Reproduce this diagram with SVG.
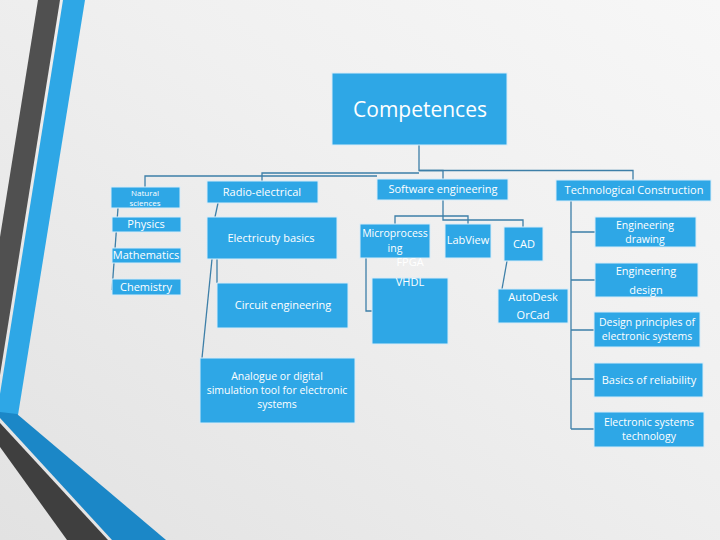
<svg xmlns="http://www.w3.org/2000/svg" width="720" height="540" viewBox="0 0 720 540">
<defs>
<linearGradient id="bg" x1="0" y1="1" x2="1" y2="0">
<stop offset="0" stop-color="#e2e2e2"/>
<stop offset="0.6" stop-color="#f0f0f0"/>
<stop offset="1" stop-color="#f7f7f7"/>
</linearGradient>
<style>
.box{fill:#2ea7e6;stroke:#d8ecf8;stroke-width:1}
.t{font-family:"Open Sans","Noto Sans",sans-serif;fill:#ffffff;text-anchor:middle;font-size:11px}
.m{font-size:10.5px}
.s{font-size:8px}
.c{fill:none;stroke:#3d7fa8;stroke-width:1.3}
</style>
</defs>
<rect width="720" height="540" fill="url(#bg)"/>
<g id="decoration">
<polygon points="38,0 60,0 0,375 0,237" fill="#505050"/>
<polygon points="63,0 85,0 18,415 0,415 0,394" fill="#2ea7e6"/>
<polygon points="0,412 17,414 166,540 112,540 0,418" fill="#1b87c7"/>
<polygon points="0,423 108,540 67,540 0,447" fill="#3f3f3f"/>
</g>
<g id="connectors">
<path class="c" d="M419,145 V170.5 H633 V180"/>
<path class="c" d="M419,170.5 H443 V179" stroke-width="2.2"/>
<path class="c" d="M419,173 H262 V181"/>
<path class="c" d="M377,176 H145 V187"/>
<path class="c" d="M118,208 L112,290"/>
<path class="c" d="M218,203 L215,217"/>
<path class="c" d="M217,259 V283"/>
<path class="c" d="M212,259 L202,358"/>
<path class="c" d="M443,200 V220 H523 V227"/>
<path class="c" d="M395,224 V216 H468 V224"/>
<path class="c" d="M366,258 V311 H372"/>
<path class="c" d="M507,261 L502,289"/>
<path class="c" d="M571,201 V429 M571,232 H595 M571,280 H595 M571,330 H594 M571,379 H594 M571,429 H594"/>
</g>
<g id="competences"><rect class="box" x="332" y="73" width="175" height="72"/><text class="t" x="420" y="117" style="font-size:21px">Competences</text></g>
<g id="natural"><rect class="box" x="111" y="187" width="69" height="21"/><text class="t s" x="145" y="195.5">Natural</text><text class="t s" x="145" y="205.5">sciences</text></g>
<g id="physics"><rect class="box" x="112" y="217" width="69" height="15"/><text class="t" x="146" y="228">Physics</text></g>
<g id="mathematics"><rect class="box" x="112" y="248" width="69" height="15"/><text class="t" x="146" y="259">Mathematics</text></g>
<g id="chemistry"><rect class="box" x="112" y="279" width="69" height="16"/><text class="t" x="146" y="291">Chemistry</text></g>
<g id="radio"><rect class="box" x="207" y="181" width="111" height="22"/><text class="t" x="262" y="196">Radio-electrical</text></g>
<g id="electricity"><rect class="box" x="207" y="217" width="130" height="42"/><text class="t" x="271" y="242">Electricuty basics</text></g>
<g id="circuit"><rect class="box" x="217" y="283" width="131" height="45"/><text class="t" x="283" y="309">Circuit engineering</text></g>
<g id="analogue"><rect class="box" x="200" y="358" width="155" height="65"/><text class="t m" x="277" y="380">Analogue or digital</text><text class="t m" x="277" y="394">simulation tool for electronic</text><text class="t m" x="277" y="408">systems</text></g>
<g id="software"><rect class="box" x="377" y="179" width="131" height="21"/><text class="t" x="443" y="193">Software engineering</text></g>
<g id="technological"><rect class="box" x="556" y="180" width="155" height="21"/><text class="t" x="634" y="194">Technological Construction</text></g>
<g id="microprocessing"><rect class="box" x="360" y="224" width="70" height="34"/><text class="t m" x="395" y="237">Microprocess</text><text class="t m" x="395" y="252">ing</text></g>
<g id="labview"><rect class="box" x="445" y="224" width="46" height="34"/><text class="t" x="468" y="244">LabView</text></g>
<g id="cad"><rect class="box" x="504" y="227" width="39" height="34"/><text class="t" x="524" y="248">CAD</text></g>
<g id="vhdl"><rect class="box" x="372" y="278" width="76" height="66"/><text class="t" x="410" y="266">FPGA</text><text class="t" x="410" y="286">VHDL</text></g>
<g id="autodesk"><rect class="box" x="498" y="289" width="70" height="34"/><text class="t" x="533" y="301">AutoDesk</text><text class="t" x="533" y="319">OrCad</text></g>
<g id="drawing"><rect class="box" x="595" y="217" width="101" height="30"/><text class="t m" x="645" y="229">Engineering</text><text class="t m" x="645" y="243">drawing</text></g>
<g id="design"><rect class="box" x="595" y="263" width="103" height="34"/><text class="t" x="646" y="275">Engineering</text><text class="t" x="646" y="294">design</text></g>
<g id="principles"><rect class="box" x="594" y="312" width="106" height="35"/><text class="t m" x="647" y="326">Design principles of</text><text class="t m" x="647" y="340">electronic systems</text></g>
<g id="reliability"><rect class="box" x="594" y="363" width="109" height="34"/><text class="t" x="649" y="384">Basics  of reliability</text></g>
<g id="est"><rect class="box" x="594" y="412" width="110" height="35"/><text class="t m" x="649" y="426">Electronic systems</text><text class="t m" x="649" y="440">technology</text></g>
</svg>
